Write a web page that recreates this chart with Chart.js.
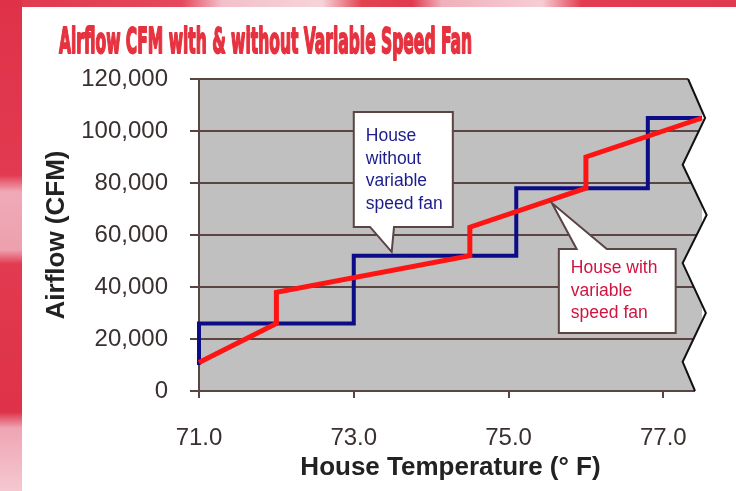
<!DOCTYPE html>
<html>
<head>
<meta charset="utf-8">
<script src="https://cdn.jsdelivr.net/npm/chart.js@4.4.1/dist/chart.umd.min.js"></script>
<style>
html, body { margin: 0; padding: 0; }
body { width: 736px; height: 491px; position: relative; overflow: hidden; background: #fff; }
#stripLeft {
    position: absolute; left: 0; top: 0; width: 22px; height: 491px;
    background: linear-gradient(180deg, #df3249 0, #e23a50 175px, #f0aab7 192px, #eda0ae 250px, #e23a50 264px, #de3248 412px, #eea5b3 428px, #f5c8d0 491px);
}
#stripTop {
    position: absolute; left: 22px; top: 0; width: 714px; height: 7px;
    background: linear-gradient(90deg, #e03a4f 0, #e5485c 160px, #f3c0c9 200px, #f7d3d9 300px, #e2434f 340px, #e03a4f 390px, #f0b0bb 420px, #f6cdd4 520px, #e33b4f 560px, #e03a4f 736px);
}
#wrap { position: absolute; left: 0; top: 0; width: 736px; height: 491px; }
</style>
</head>
<body>
<div id="stripLeft"></div>
<div id="stripTop"></div>
<div id="wrap"><canvas id="airflowChart"></canvas></div>
<script>
// house temperature (deg F) and airflow (CFM)
var noVsfTemp = [71.0, 71.0, 73.0, 73.0, 75.1, 75.1, 76.8, 76.8, 77.5];
var noVsfCfm  = [10000, 26000, 26000, 52000, 52000, 78000, 78000, 105000, 105000];
var vsfTemp   = [71.0, 72.0, 72.0, 74.5, 74.5, 76.0, 76.0, 77.5];
var vsfCfm    = [11000, 26000, 38000, 52000, 63000, 78000, 90000, 105000];
var xTickValues = [71.0, 73.0, 75.0, 77.0];
var yTickValues = [0, 20000, 40000, 60000, 80000, 100000, 120000];

var chartTitle = 'Airflow CFM with & without Variable Speed Fan';
var noVsfNote = ['House', 'without', 'variable', 'speed fan'];
var vsfNote = ['House with', 'variable', 'speed fan'];

function toPoints(xs, ys) {
    return xs.map(function (x, i) { return {x: x, y: ys[i]}; });
}

var gridColor = '#5a4444';

// torn right edge of the plot, in axis units
var edgeTemp = [77.32, 77.54, 77.25, 77.56, 77.25, 77.55, 77.25, 77.41];
var edgeCfm  = [120000, 105000, 87000, 67700, 49200, 30000, 11200, 0];

function edgePoints(chart) {
    var sx = chart.scales.x, sy = chart.scales.y;
    return edgeTemp.map(function (t, i) {
        return [sx.getPixelForValue(t), sy.getPixelForValue(edgeCfm[i])];
    });
}

function drawCallout(chart, box, pointer, lines, color, firstLine) {
    var ctx = chart.ctx, sx = chart.scales.x, sy = chart.scales.y;
    var l = sx.getPixelForValue(box[0]), r = sx.getPixelForValue(box[1]);
    var t = sy.getPixelForValue(box[2]), b = sy.getPixelForValue(box[3]);
    var p1 = sx.getPixelForValue(pointer[0]), p2 = sx.getPixelForValue(pointer[1]);
    var tx = sx.getPixelForValue(pointer[2]), ty = sy.getPixelForValue(pointer[3]);
    ctx.save();
    ctx.beginPath();
    ctx.moveTo(l, t);
    if (pointer[4] === 'top') {
        ctx.lineTo(p1, t); ctx.lineTo(tx, ty); ctx.lineTo(p2, t);
    }
    ctx.lineTo(r, t);
    ctx.lineTo(r, b);
    if (pointer[4] === 'bottom') {
        ctx.lineTo(p2, b); ctx.lineTo(tx, ty); ctx.lineTo(p1, b);
    }
    ctx.lineTo(l, b);
    ctx.closePath();
    ctx.fillStyle = '#ffffff';
    ctx.fill();
    ctx.lineWidth = 2;
    ctx.strokeStyle = gridColor;
    ctx.stroke();
    ctx.fillStyle = color;
    ctx.font = '17.5px "Liberation Sans", Arial, sans-serif';
    ctx.textBaseline = 'alphabetic';
    lines.forEach(function (s, i) {
        ctx.fillText(s, l + 12, t + firstLine + i * 22.6);
    });
    ctx.restore();
}

var slidePlugin = {
    id: 'slide',
    beforeDraw: function (chart) {
        var ctx = chart.ctx, a = chart.chartArea;
        ctx.save();
        ctx.fillStyle = '#c0c0c0';
        ctx.fillRect(a.left, a.top, a.right - a.left, a.bottom - a.top);
        // slide heading, squeezed to the width it has on the slide
        ctx.font = 'bold 35px "Liberation Sans Narrow", "DejaVu Sans Condensed", "Liberation Sans", sans-serif';
        ctx.fillStyle = '#e6323f';
        ctx.strokeStyle = '#e6323f';
        ctx.lineWidth = 1.8;
        ctx.lineJoin = 'round';
        ctx.textBaseline = 'alphabetic';
        var w = ctx.measureText(chartTitle).width;
        ctx.translate(59, 53);
        ctx.scale(413 / w, 1);
        ctx.fillText(chartTitle, 0, 0);
        ctx.strokeText(chartTitle, 0, 0);
        ctx.restore();
    },
    beforeDatasetsDraw: function (chart) {
        var ctx = chart.ctx, a = chart.chartArea;
        var pts = edgePoints(chart);
        ctx.save();
        ctx.beginPath();
        ctx.moveTo(pts[0][0], a.top - 3);
        pts.forEach(function (p) { ctx.lineTo(p[0], p[1]); });
        ctx.lineTo(pts[pts.length - 1][0], a.bottom + 2);
        ctx.lineTo(a.right + 40, a.bottom + 2);
        ctx.lineTo(a.right + 40, a.top - 3);
        ctx.closePath();
        ctx.fillStyle = '#ffffff';
        ctx.fill();
        ctx.restore();
    },
    afterDatasetsDraw: function (chart) {
        var ctx = chart.ctx;
        var pts = edgePoints(chart);
        ctx.save();
        ctx.beginPath();
        pts.forEach(function (p, i) { if (i === 0) ctx.moveTo(p[0], p[1]); else ctx.lineTo(p[0], p[1]); });
        ctx.lineWidth = 2;
        ctx.strokeStyle = '#111111';
        ctx.stroke();
        ctx.restore();

        drawCallout(chart, [73.0, 74.28, 107300, 63100], [73.21, 73.52, 73.49, 53500, 'bottom'], noVsfNote, '#1c1c8c', 29);
        drawCallout(chart, [75.65, 77.16, 54600, 22300], [75.88, 76.27, 75.56, 72300, 'top'], vsfNote, '#cf1440', 24);
    }
};

var tickFont = {family: '"Liberation Sans", Arial, sans-serif', size: 24};
var titleFont = {family: '"Liberation Sans", Arial, sans-serif', size: 26, weight: 'bold'};

var chart_airflow = new Chart(document.getElementById('airflowChart'), {
    type: 'line',
    data: {
        datasets: [
            {
                label: 'House with variable speed fan',
                data: toPoints(vsfTemp, vsfCfm),
                borderColor: '#ff1414',
                borderWidth: 5,
                pointRadius: 0,
                tension: 0,
                fill: false,
                clip: 4
            },
            {
                label: 'House without variable speed fan',
                data: toPoints(noVsfTemp, noVsfCfm),
                borderColor: '#0c0c86',
                borderWidth: 4,
                borderJoinStyle: 'miter',
                pointRadius: 0,
                tension: 0,
                fill: false,
                clip: 4
            }
        ]
    },
    options: {
        animation: false,
        responsive: true,
        maintainAspectRatio: false,
        layout: {
            padding: {left: 41, top: 79, right: 34, bottom: 0}
        },
        plugins: {
            legend: {display: false},
            tooltip: {enabled: false},
            title: {display: false}
        },
        scales: {
            x: {
                type: 'linear',
                min: 71,
                max: 77.5,
                afterBuildTicks: function (scale) {
                    scale.ticks = xTickValues.map(function (v) { return {value: v}; });
                },
                afterFit: function (scale) { scale.height = 100; },
                ticks: {
                    font: tickFont,
                    color: '#3a3030',
                    padding: 26,
                    maxRotation: 0,
                    callback: function (value) { return value.toFixed(1); }
                },
                grid: {
                    drawOnChartArea: false,
                    drawTicks: true,
                    tickLength: 7,
                    color: gridColor,
                    lineWidth: 2
                },
                border: {display: true, color: gridColor, width: 2},
                title: {
                    display: true,
                    text: 'House Temperature (° F)',
                    font: titleFont,
                    color: '#222222',
                    padding: {top: 0, bottom: 8}
                }
            },
            y: {
                type: 'linear',
                min: 0,
                max: 120000,
                afterBuildTicks: function (scale) {
                    scale.ticks = yTickValues.map(function (v) { return {value: v}; });
                },
                afterFit: function (scale) { scale.width = 158; },
                ticks: {
                    font: tickFont,
                    color: '#3a3030',
                    padding: 22,
                    callback: function (value) { return value.toLocaleString('en-US'); }
                },
                grid: {
                    color: gridColor,
                    lineWidth: 2,
                    tickLength: 9
                },
                border: {display: true, color: gridColor, width: 2},
                title: {
                    display: true,
                    text: 'Airflow (CFM)',
                    font: titleFont,
                    color: '#222222',
                    padding: {top: 0, bottom: 0}
                }
            }
        }
    },
    plugins: [slidePlugin]
});
</script>
</body>
</html>
